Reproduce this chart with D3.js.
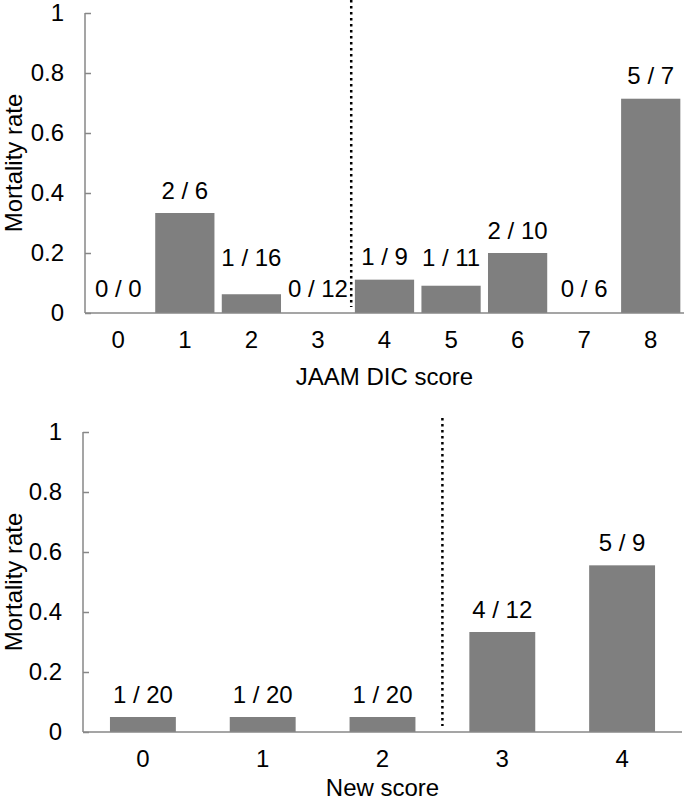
<!DOCTYPE html>
<html>
<head>
<meta charset="utf-8">
<script src="https://cdn.jsdelivr.net/npm/d3@7"></script>
<style>
  body { margin: 0; background: #fff; }
  text { font-family: "Liberation Sans", Arial, sans-serif; fill: #000; }
</style>
</head>
<body>
<div id="chart"></div>
<script>
// JAAM DIC score panel
let jaamScores = ["0", "1", "2", "3", "4", "5", "6", "7", "8"]
let jaamDeaths = [0, 2, 1, 0, 1, 1, 2, 0, 5]
let jaamTotals = [0, 6, 16, 12, 9, 11, 10, 6, 7]

// New score panel
let newScores = ["0", "1", "2", "3", "4"]
let newDeaths = [1, 1, 1, 4, 5]
let newTotals = [20, 20, 20, 12, 9]

let yTicks = [0, 0.2, 0.4, 0.6, 0.8, 1]

let width = 685
let height = 802
let fontSize = 24
let barColor = '#7f7f7f'
let axisColor = '#878787'

let svg = d3.select('#chart')
    .append('svg')
    .attr('width', width)
    .attr('height', height)

let panels = [
  {
    scores: jaamScores, deaths: jaamDeaths, totals: jaamTotals,
    title: "JAAM DIC score", cutAfter: 3,
    left: 85, right: 684, top: 13, bottom: 313,
    padding: 0.11, lineTop: 0, minLabel: 0.11, titleY: 385
  },
  {
    scores: newScores, deaths: newDeaths, totals: newTotals,
    title: "New score", cutAfter: 2,
    left: 83, right: 682, top: 432, bottom: 732,
    padding: 0.45, lineTop: 418, minLabel: 0, titleY: 796
  }
]

let drawPanel = (p) => {
    let data = p.scores.map((s, i) => ({
        score: s,
        deaths: p.deaths[i],
        total: p.totals[i],
        rate: p.totals[i] > 0 ? p.deaths[i] / p.totals[i] : 0
    }))

    let x = d3.scaleBand()
        .domain(p.scores)
        .range([p.left, p.right])
        .paddingInner(p.padding)
        .paddingOuter(p.padding / 2)

    let y = d3.scaleLinear()
        .domain([0, 1])
        .range([p.bottom, p.top])

    let g = svg.append('g')

    // bars
    g.selectAll('rect')
        .data(data)
        .join('rect')
        .attr('x', d => x(d.score))
        .attr('y', d => y(d.rate))
        .attr('width', x.bandwidth())
        .attr('height', d => y(0) - y(d.rate))
        .attr('fill', barColor)

    // y axis, ticks inside
    let yAxis = d3.axisRight(y)
        .tickValues(yTicks)
        .tickSize(6)
        .tickFormat('')
    let ya = g.append('g')
        .attr('transform', `translate(${p.left},0)`)
        .call(yAxis)
    ya.select('.domain').remove()
    ya.selectAll('line').attr('stroke', axisColor).attr('stroke-width', 1.5)
    g.append('line')
        .attr('x1', p.left).attr('x2', p.left)
        .attr('y1', y(1)).attr('y2', y(0))
        .attr('stroke', axisColor).attr('stroke-width', 1.5)

    g.selectAll('.ytick')
        .data(yTicks)
        .join('text')
        .attr('class', 'ytick')
        .attr('x', p.left - 21)
        .attr('y', d => y(d))
        .attr('dy', '0.35em')
        .attr('text-anchor', 'end')
        .attr('font-size', fontSize)
        .text(d => d3.format('~g')(d))

    // x axis
    g.append('line')
        .attr('x1', p.left).attr('x2', p.right)
        .attr('y1', y(0)).attr('y2', y(0))
        .attr('stroke', axisColor).attr('stroke-width', 1.5)

    g.selectAll('.xtick')
        .data(p.scores)
        .join('text')
        .attr('class', 'xtick')
        .attr('x', d => x(d) + x.bandwidth() / 2)
        .attr('y', y(0) + 35)
        .attr('text-anchor', 'middle')
        .attr('font-size', fontSize)
        .text(d => d)

    // bar labels
    g.selectAll('.lab')
        .data(data)
        .join('text')
        .attr('class', 'lab')
        .attr('x', d => x(d.score) + x.bandwidth() / 2)
        .attr('y', d => {
            if (d.rate === 0) return y(0) - 16
            return y(Math.max(d.rate, p.minLabel)) - 14.5
        })
        .attr('text-anchor', 'middle')
        .attr('font-size', fontSize)
        .text(d => `${d.deaths} / ${d.total}`)

    // dotted cut-off line
    let a = p.scores[p.cutAfter], b = p.scores[p.cutAfter + 1]
    let cx = (x(a) + x.bandwidth() + x(b)) / 2
    g.append('line')
        .attr('x1', cx).attr('x2', cx)
        .attr('y1', p.lineTop).attr('y2', y(0) - 6)
        .attr('stroke', '#000')
        .attr('stroke-width', 2.5)
        .attr('stroke-dasharray', '2.5 3.5')

    // titles
    g.append('text')
        .attr('x', (p.left + p.right) / 2)
        .attr('y', p.titleY)
        .attr('text-anchor', 'middle')
        .attr('font-size', fontSize)
        .text(p.title)

    g.append('text')
        .attr('transform', `translate(22,${(y(0) + y(1)) / 2}) rotate(-90)`)
        .attr('text-anchor', 'middle')
        .attr('font-size', fontSize)
        .text("Mortality rate")
}

panels.forEach(drawPanel)
</script>
</body>
</html>
